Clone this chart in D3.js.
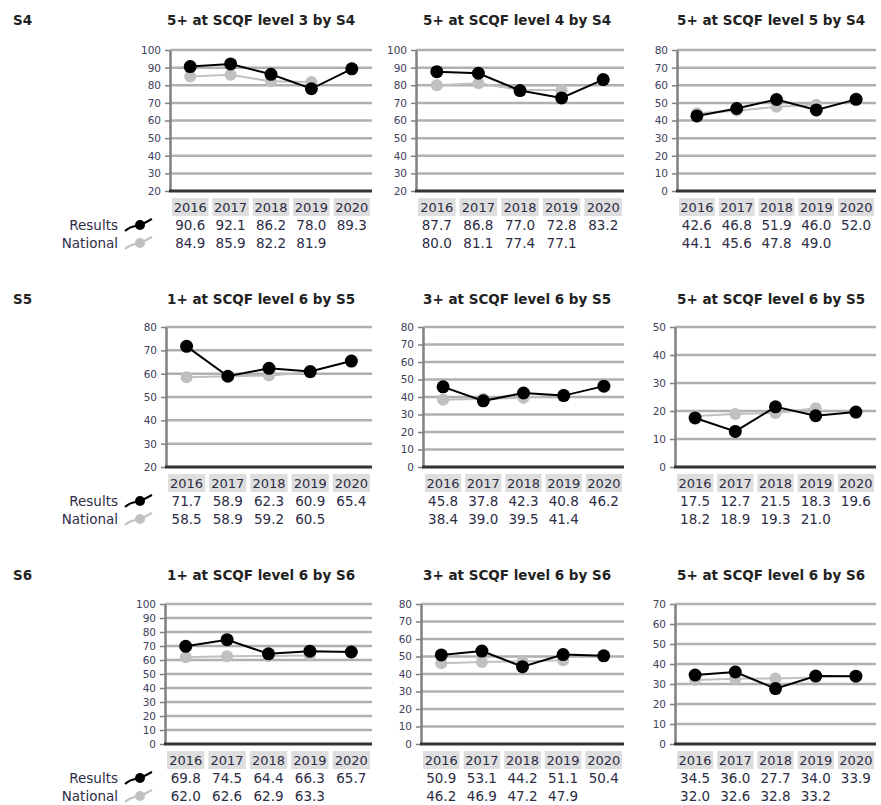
<!DOCTYPE html>
<html lang="en">
<head>
    <meta charset="utf-8">
    <script type="text/javascript" src="https://d3js.org/d3.v7.min.js"></script>
    <title>SCQF attainment by stage</title>
    <style>
        html, body {
            margin: 0;
            padding: 0;
            background: white;
        }
        svg text {
            font-family: "DejaVu Sans", Verdana, sans-serif;
        }
    </style>
</head>
<body>
    <div id="chart"></div>

    <script type="text/javascript">

        // ---------- Data ----------
        const years = ["2016", "2017", "2018", "2019", "2020"];
        const stages = ["S4", "S5", "S6"];
        const legendNames = ["Results", "National"];

        const titles = [
            ["5+ at SCQF level 3 by S4", "5+ at SCQF level 4 by S4", "5+ at SCQF level 5 by S4"],
            ["1+ at SCQF level 6 by S5", "3+ at SCQF level 6 by S5", "5+ at SCQF level 6 by S5"],
            ["1+ at SCQF level 6 by S6", "3+ at SCQF level 6 by S6", "5+ at SCQF level 6 by S6"]
        ];

        const yDomains = [
            [[20, 100], [20, 100], [0, 80]],
            [[20, 80], [0, 80], [0, 50]],
            [[0, 100], [0, 80], [0, 70]]
        ];

        const results = [
            [[90.6, 92.1, 86.2, 78.0, 89.3], [87.7, 86.8, 77.0, 72.8, 83.2], [42.6, 46.8, 51.9, 46.0, 52.0]],
            [[71.7, 58.9, 62.3, 60.9, 65.4], [45.8, 37.8, 42.3, 40.8, 46.2], [17.5, 12.7, 21.5, 18.3, 19.6]],
            [[69.8, 74.5, 64.4, 66.3, 65.7], [50.9, 53.1, 44.2, 51.1, 50.4], [34.5, 36.0, 27.7, 34.0, 33.9]]
        ];

        const national = [
            [[84.9, 85.9, 82.2, 81.9], [80.0, 81.1, 77.4, 77.1], [44.1, 45.6, 47.8, 49.0]],
            [[58.5, 58.9, 59.2, 60.5], [38.4, 39.0, 39.5, 41.4], [18.2, 18.9, 19.3, 21.0]],
            [[62.0, 62.6, 62.9, 63.3], [46.2, 46.9, 47.2, 47.9], [32.0, 32.6, 32.8, 33.2]]
        ];

        // ---------- Layout ----------
        const W = 881, H = 805;
        const rowTop = [50, 327, 604];
        const rowBottom = [191, 467, 744];
        const titleY = [20, 299, 575];
        const axisX = [[170, 416, 677], [166, 423, 675], [165, 421, 675]];
        const rightX = [372, 624, 876];
        const titleX = [167, 423, 677];

        const textColor = "#2c2c44";
        const gridColor = "#b0b0b0";
        const resColor = "#000";
        const natColor = "#c0c0c0";

        const svg = d3.select("#chart")
            .append("svg")
                .attr("width", W)
                .attr("height", H);

        stages.forEach((stage, r) => {

            // Stage label on the left
            svg.append("text")
                .attr("x", 13)
                .attr("y", titleY[r])
                .attr("dy", "0.35em")
                .style("font-size", "13.5px")
                .style("font-weight", "bold")
                .attr("fill", "#222")
                .text(stage);

            for (let c = 0; c < 3; c++) {
                const x0 = axisX[r][c], x1 = rightX[c];
                const dom = yDomains[r][c];

                const x = d3.scaleBand().domain(years).range([x0, x1]);
                const y = d3.scaleLinear().domain(dom).range([rowBottom[r], rowTop[r]]);
                const ticks = d3.range(dom[0], dom[1] + 1, 10);

                const g = svg.append("g");

                // Title
                g.append("text")
                    .attr("x", titleX[c])
                    .attr("y", titleY[r])
                    .attr("dy", "0.35em")
                    .style("font-size", "13.5px")
                    .style("font-weight", "bold")
                    .attr("fill", "#222")
                    .text(titles[r][c]);

                // Gridlines
                g.selectAll(".grid")
                    .data(ticks.slice(1))
                    .join("line")
                        .attr("x1", x0)
                        .attr("x2", x1)
                        .attr("y1", d => y(d))
                        .attr("y2", d => y(d))
                        .attr("stroke", gridColor)
                        .attr("stroke-width", 2.5);

                // Y axis
                const yAxis = g.append("g")
                    .attr("transform", `translate(${x0},0)`)
                    .call(d3.axisLeft(y).tickValues(ticks).tickSize(5).tickSizeOuter(0).tickPadding(4));
                yAxis.select(".domain").attr("stroke", "#808080").attr("stroke-width", 2.5);
                yAxis.selectAll(".tick line").attr("stroke", "#808080").attr("stroke-width", 1.5);
                yAxis.selectAll(".tick text")
                    .attr("fill", "#40405a")
                    .style("font-size", "10.5px")
                    .style("font-family", "'DejaVu Sans', Verdana, sans-serif");

                // Bottom axis line
                g.append("line")
                    .attr("x1", x0 - 1)
                    .attr("x2", x1)
                    .attr("y1", rowBottom[r])
                    .attr("y2", rowBottom[r])
                    .attr("stroke", "#333")
                    .attr("stroke-width", 3);

                // National line + markers
                const natData = national[r][c].map((v, i) => [years[i], v]);
                const resData = results[r][c].map((v, i) => [years[i], v]);
                const line = d3.line()
                    .x(d => x(d[0]) + x.bandwidth() / 2)
                    .y(d => y(d[1]));

                g.append("path")
                    .datum(natData)
                    .attr("d", line)
                    .attr("fill", "none")
                    .attr("stroke", natColor)
                    .attr("stroke-width", 2);
                g.selectAll(".nat")
                    .data(natData)
                    .join("circle")
                        .attr("cx", d => x(d[0]) + x.bandwidth() / 2)
                        .attr("cy", d => y(d[1]))
                        .attr("r", 6)
                        .attr("fill", natColor);

                // Results line + markers
                g.append("path")
                    .datum(resData)
                    .attr("d", line)
                    .attr("fill", "none")
                    .attr("stroke", resColor)
                    .attr("stroke-width", 2);
                g.selectAll(".res")
                    .data(resData)
                    .join("circle")
                        .attr("cx", d => x(d[0]) + x.bandwidth() / 2)
                        .attr("cy", d => y(d[1]))
                        .attr("r", 6.5)
                        .attr("fill", resColor);

                // Data table: year boxes and values
                const yb = rowBottom[r];
                g.selectAll(".yearbox")
                    .data(years)
                    .join("rect")
                        .attr("x", d => x(d) + 2)
                        .attr("y", yb + 7)
                        .attr("width", x.bandwidth() - 4)
                        .attr("height", 18)
                        .attr("fill", "#dedede");
                g.selectAll(".yeartext")
                    .data(years)
                    .join("text")
                        .attr("x", d => x(d) + x.bandwidth() / 2)
                        .attr("y", yb + 16)
                        .attr("dy", "0.35em")
                        .attr("text-anchor", "middle")
                        .style("font-size", "13px")
                        .attr("fill", textColor)
                        .text(d => d);

                [resData, natData].forEach((rows, k) => {
                    g.selectAll(".val" + k)
                        .data(rows)
                        .join("text")
                            .attr("x", d => x(d[0]) + x.bandwidth() / 2)
                            .attr("y", yb + 34 + k * 18)
                            .attr("dy", "0.35em")
                            .attr("text-anchor", "middle")
                            .style("font-size", "13.5px")
                            .attr("fill", textColor)
                            .text(d => d3.format(".1f")(d[1]));
                });

                // Legend (left column only)
                if (c === 0) {
                    legendNames.forEach((name, k) => {
                        const ly = yb + 34 + k * 18;
                        const col = k === 0 ? resColor : natColor;
                        g.append("text")
                            .attr("x", 118)
                            .attr("y", ly)
                            .attr("dy", "0.35em")
                            .attr("text-anchor", "end")
                            .style("font-size", "13.5px")
                            .attr("fill", textColor)
                            .text(name);
                        g.append("path")
                            .attr("d", `M125,${ly + 6} C132,${ly} 135,${ly + 2} 140,${ly} S148,${ly - 4} 152,${ly - 6}`)
                            .attr("fill", "none")
                            .attr("stroke", col)
                            .attr("stroke-width", 2);
                        g.append("circle")
                            .attr("cx", 140)
                            .attr("cy", ly)
                            .attr("r", 5)
                            .attr("fill", col);
                    });
                }
            }
        });

    </script>
</body>
</html>
